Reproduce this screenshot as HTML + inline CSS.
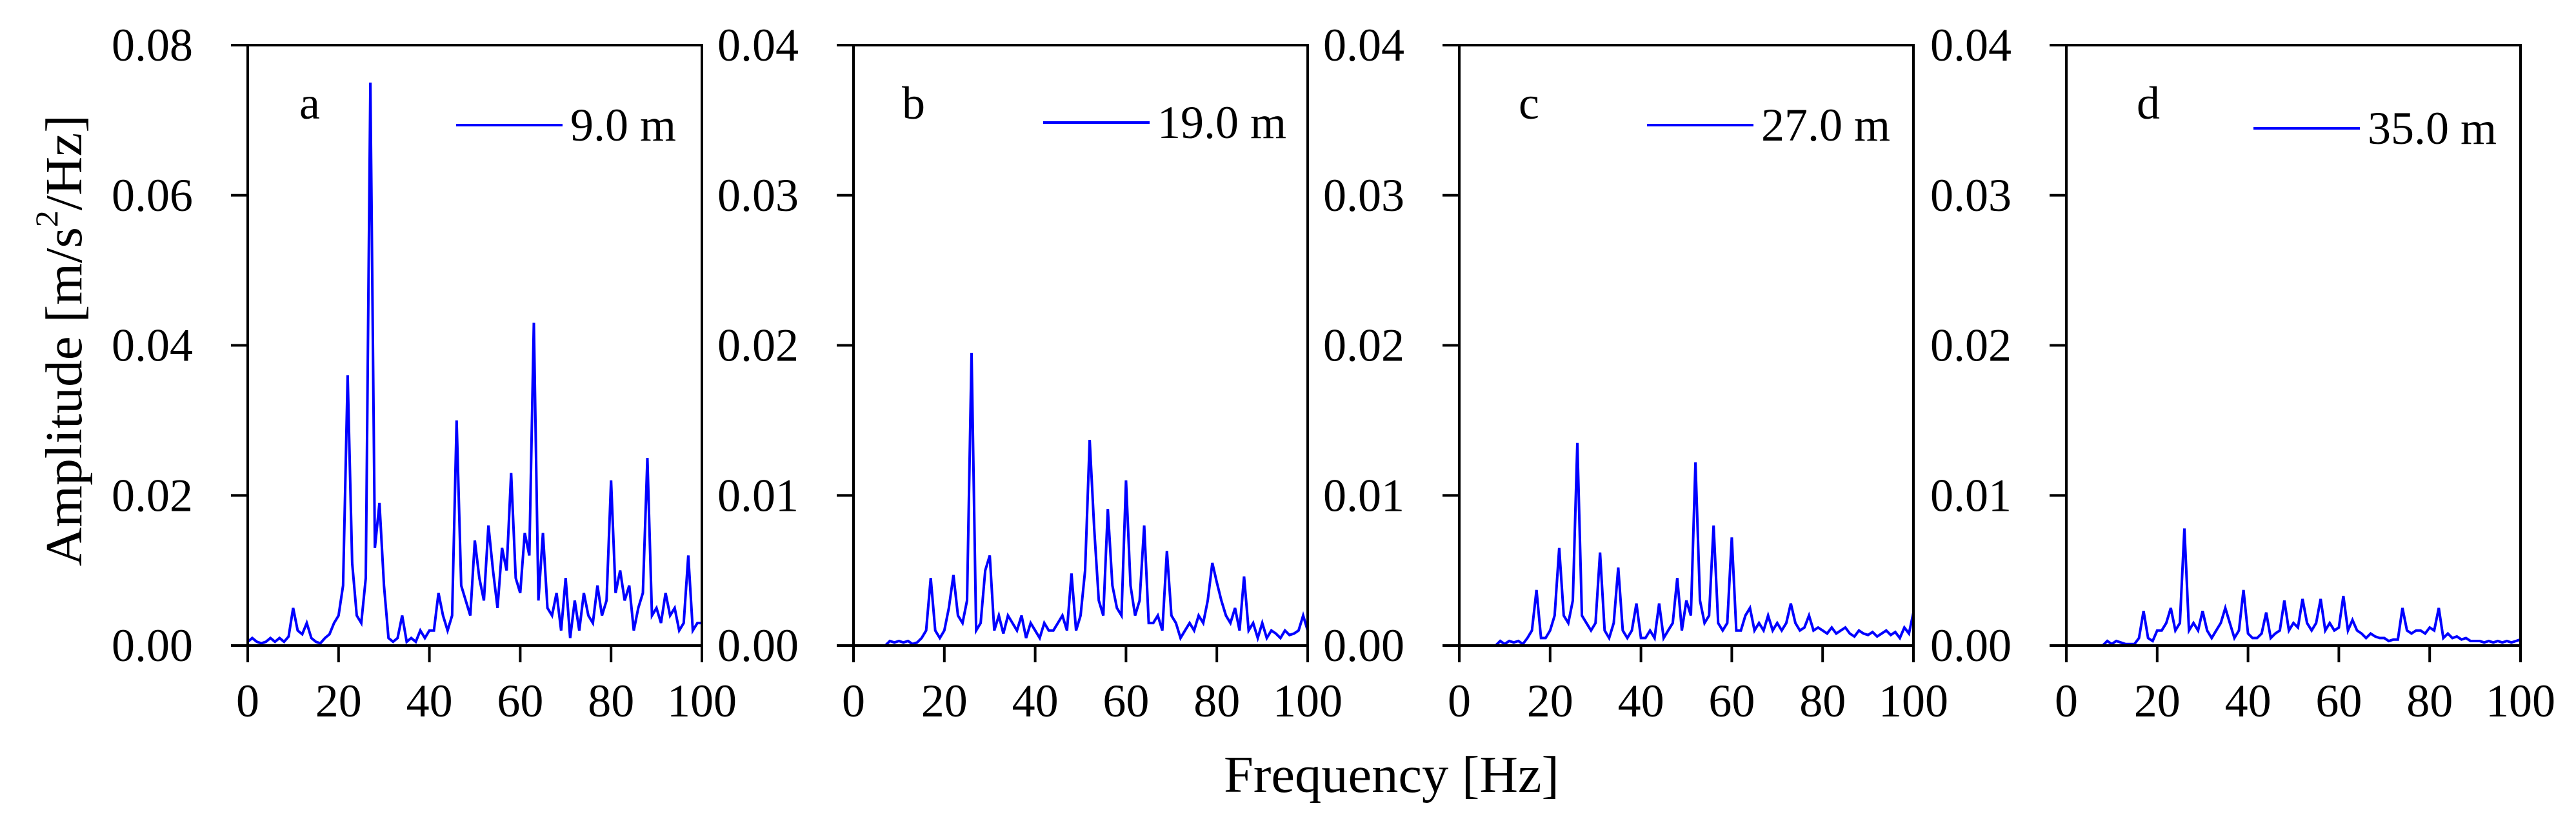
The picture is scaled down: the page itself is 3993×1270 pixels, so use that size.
<!DOCTYPE html>
<html><head><meta charset="utf-8"><style>
html,body{margin:0;padding:0;background:#fff;}
svg{display:block;font-family:"Liberation Serif",serif;}
</style></head><body>
<svg id="chart" width="3993" height="1270" viewBox="0 0 3993 1270" xmlns="http://www.w3.org/2000/svg">
<text x="0" y="0" transform="translate(100,528) rotate(-90)" text-anchor="middle" dominant-baseline="central" font-size="80" textLength="700" lengthAdjust="spacingAndGlyphs">Amplitude [m/s<tspan font-size="50" dy="-28">2</tspan><tspan dy="28">/Hz]</tspan></text>
<text x="2157" y="1228" text-anchor="middle" font-size="80" textLength="520" lengthAdjust="spacingAndGlyphs">Frequency [Hz]</text>
</svg>
<script>
const xTicks = [0, 20, 40, 60, 80, 100];
const yTicksA = [0, 0.02, 0.04, 0.06, 0.08];
const yTickLabelsA = ["0.00", "0.02", "0.04", "0.06", "0.08"];
const yTicksB = [0, 0.01, 0.02, 0.03, 0.04];
const yTickLabelsB = ["0.00", "0.01", "0.02", "0.03", "0.04"];
const panelLetters = ["a", "b", "c", "d"];
const legendLabels = ["9.0 m", "19.0 m", "27.0 m", "35.0 m"];
const seriesA = [0.0005,0.001,0.0005,0.0003,0.0005,0.001,0.0005,0.001,0.0005,0.0012,
0.005,0.002,0.0015,0.003,0.001,0.0005,0.0003,0.001,0.0015,0.003,
0.004,0.008,0.036,0.011,0.004,0.003,0.009,0.075,0.013,0.019,
0.008,0.001,0.0005,0.001,0.004,0.0005,0.001,0.0005,0.002,0.001,
0.002,0.002,0.007,0.004,0.002,0.004,0.030,0.008,0.006,0.004,
0.014,0.009,0.006,0.016,0.010,0.005,0.013,0.010,0.023,0.009,
0.007,0.015,0.012,0.043,0.006,0.015,0.005,0.004,0.007,0.002,
0.009,0.001,0.006,0.002,0.007,0.004,0.003,0.008,0.004,0.006,
0.022,0.007,0.010,0.006,0.008,0.002,0.005,0.007,0.025,0.004,
0.005,0.003,0.007,0.004,0.005,0.002,0.003,0.012,0.002,0.003,0.003];
const seriesB = [0,0,0,0,0,0,0,0,0.0003,0.0002,
0.0003,0.0002,0.0003,0.0001,0.0002,0.0005,0.001,0.0045,0.001,0.0005,
0.001,0.0025,0.0047,0.002,0.0015,0.003,0.0195,0.001,0.0015,0.005,
0.006,0.001,0.002,0.0008,0.002,0.0015,0.001,0.002,0.0005,0.0015,
0.001,0.0005,0.0015,0.001,0.001,0.0015,0.002,0.001,0.0048,0.001,
0.002,0.005,0.0137,0.0078,0.003,0.002,0.0091,0.004,0.0025,0.002,
0.011,0.004,0.002,0.003,0.008,0.0015,0.0015,0.002,0.001,0.0063,
0.002,0.0015,0.0005,0.001,0.0015,0.001,0.002,0.0015,0.003,0.0055,
0.0042,0.003,0.002,0.0015,0.0025,0.001,0.0046,0.001,0.0015,0.0005,
0.0015,0.0005,0.001,0.0008,0.0005,0.001,0.0007,0.0008,0.001,0.002,0.001];
const seriesC = [0,0,0,0,0,0,0,0,0,0.0003,
0.0001,0.0003,0.0002,0.0003,0.0001,0.0005,0.001,0.0037,0.0005,0.0005,
0.001,0.002,0.0065,0.002,0.0015,0.003,0.0135,0.002,0.0015,0.001,
0.0015,0.0062,0.001,0.0005,0.0015,0.0052,0.001,0.0005,0.001,0.0028,
0.0005,0.0005,0.001,0.0005,0.0028,0.0005,0.001,0.0015,0.0045,0.001,
0.003,0.002,0.0122,0.003,0.0015,0.002,0.008,0.0015,0.001,0.0015,
0.0072,0.001,0.001,0.002,0.0025,0.001,0.0015,0.001,0.002,0.001,
0.0015,0.001,0.0015,0.0028,0.0015,0.001,0.0012,0.002,0.001,0.0012,
0.001,0.0008,0.0012,0.0008,0.001,0.0012,0.0008,0.0006,0.001,0.0008,
0.0007,0.0009,0.0006,0.0008,0.001,0.0007,0.0009,0.0005,0.0012,0.0008,0.0022];
const seriesD = [0,0,0,0,0,0,0,0,0,0.0003,
0.0001,0.0003,0.0002,0.0001,0.0001,0.0001,0.0005,0.0023,0.0005,0.0003,
0.001,0.001,0.0015,0.0025,0.001,0.0015,0.0078,0.001,0.0015,0.001,
0.0023,0.001,0.0005,0.001,0.0015,0.0025,0.0015,0.0005,0.001,0.0037,
0.0008,0.0005,0.0005,0.0008,0.0022,0.0005,0.0008,0.001,0.003,0.001,
0.0015,0.0012,0.0031,0.0015,0.001,0.0015,0.0031,0.001,0.0015,0.001,
0.0012,0.0033,0.001,0.0017,0.001,0.0008,0.0005,0.0008,0.0006,0.0005,
0.0005,0.0003,0.0004,0.0004,0.0025,0.001,0.0008,0.001,0.001,0.0008,
0.0012,0.001,0.0025,0.0005,0.0008,0.0005,0.0006,0.0004,0.0005,0.0003,
0.0003,0.0003,0.0002,0.0003,0.0002,0.0003,0.0002,0.0003,0.0002,0.0003,0.0004];

const NS = "http://www.w3.org/2000/svg";
const svg = document.getElementById("chart");
const panelLefts = [384, 1323, 2262, 3203];
const PW = 704, TOP = 70, BOT = 1001;
const legendX = [707, 1617, 2553, 3493];
const legendY = [194, 190, 194, 199];
const letterX = [464, 1398, 2354, 3312];
const allSeries = [seriesA, seriesB, seriesC, seriesD];

function mk(tag, attrs, parent) {
  const e = document.createElementNS(NS, tag);
  for (const k in attrs) e.setAttribute(k, attrs[k]);
  (parent || svg).appendChild(e);
  return e;
}

for (let p = 0; p < 4; p++) {
  const L = panelLefts[p];
  const yMax = p === 0 ? 0.08 : 0.04;
  const yTicks = p === 0 ? yTicksA : yTicksB;
  const yLabels = p === 0 ? yTickLabelsA : yTickLabelsB;
  const xs = f => L + f / 100 * PW;
  const ys = v => BOT - v / yMax * (BOT - TOP);
  const g = mk("g", {});
  
  

  // series
  const data = allSeries[p];
  let d = "";
  for (let i = 0; i < data.length; i++) d += (i ? "L" : "M") + xs(i).toFixed(1) + "," + ys(data[i]).toFixed(1);
  const path = mk("path", {d: d, fill: "none", stroke: "#0000ff", "stroke-width": 4, "stroke-linejoin": "miter"}, g);
  
  

  // frame
  const frame = mk("rect", {x: L, y: TOP, width: PW, height: BOT - TOP, fill: "none", stroke: "#000", "stroke-width": 4}, g);
  
  

  // y ticks
  for (let i = 0; i < yTicks.length; i++) {
    const y = ys(yTicks[i]);
    const t = mk("line", {x1: L - 26, x2: L, y1: y, y2: y, stroke: "#000", "stroke-width": 4}, g);
    
    
    const tx = mk("text", {x: L - 85, y: y + 24, "text-anchor": "end", "font-size": 72}, g);
    
    
    tx.textContent = yLabels[i];
  }
  // x ticks
  for (let i = 0; i < xTicks.length; i++) {
    const x = xs(xTicks[i]);
    const t = mk("line", {x1: x, x2: x, y1: BOT, y2: BOT + 26, stroke: "#000", "stroke-width": 4}, g);
    
    
    const tx = mk("text", {x: x, y: 1111, "text-anchor": "middle", "font-size": 72}, g);
    
    
    tx.textContent = String(xTicks[i]);
  }
  // panel letter
  const lt = mk("text", {x: letterX[p], y: 184, "font-size": 72}, g);
  
  
  lt.textContent = panelLetters[p];
  // legend
  const lg = mk("g", {}, g);
  
  
  mk("line", {x1: legendX[p], x2: legendX[p] + 165, y1: legendY[p], y2: legendY[p], stroke: "#0000ff", "stroke-width": 4}, lg);
  const lx = mk("text", {x: legendX[p] + 177, y: legendY[p] + 24, "font-size": 72}, lg);
  
  
  lx.textContent = legendLabels[p];
}
</script>
</body></html>
